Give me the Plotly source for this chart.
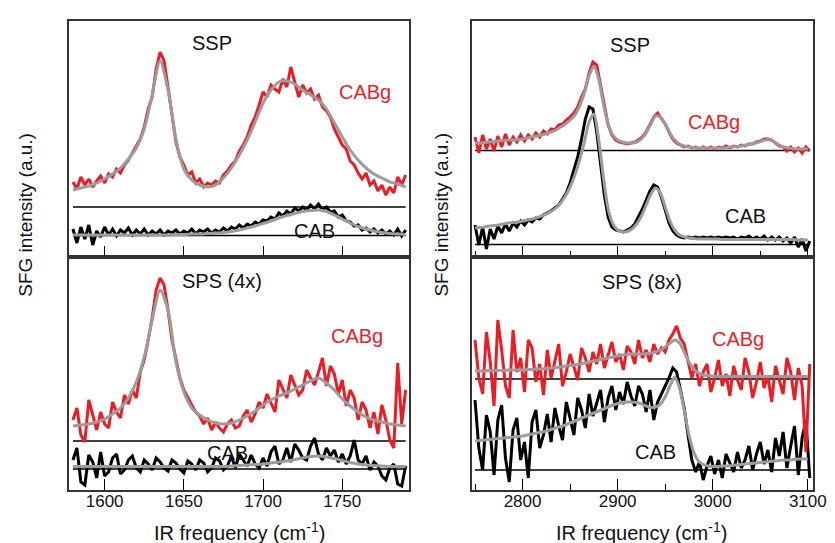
import plotly.graph_objects as go

RED = '#ed1c24'
GRAY = '#9c9c9c'
INK = '#111111'
FONT = 'Liberation Sans, Arial, sans-serif'
W, H = 835, 543

# frequency grids (cm-1)
left_fit_x = list(range(1580, 1795, 5))
left_data_x = [1580 + 2.5 * i for i in range(85)]
right_fit_x = list(range(2750, 3105, 5))
right_data_x = list(range(2750, 3103, 4))

# amide I region, SSP
ssp_amide_cabg_fit = [67, 69, 71, 74, 78, 83, 89, 98, 109, 128,
                      162, 196, 167, 118, 88, 77, 72, 70, 72, 79,
                      89, 102, 117, 135, 154, 167, 175, 176, 173, 167,
                      162, 157, 148, 134, 120, 107, 97, 89, 83, 79,
                      75, 73, 70]
ssp_amide_cabg = [75, 68, 80, 72, 78, 70, 76, 81, 74, 83,
                  80, 88, 84, 92, 97, 104, 110, 118, 130, 148,
                  160, 188, 205, 196, 170, 140, 115, 100, 92, 82,
                  85, 74, 78, 70, 74, 72, 76, 74, 82, 86,
                  92, 96, 106, 112, 120, 132, 140, 152, 165, 160,
                  172, 168, 165, 178, 170, 190, 176, 160, 172, 164,
                  168, 158, 162, 150, 146, 140, 128, 120, 112, 108,
                  96, 92, 84, 78, 84, 72, 76, 66, 72, 62,
                  70, 64, 80, 72, 82]
ssp_amide_cab_fit = [22, 22, 22, 22, 22, 22, 22, 22, 22, 22,
                     22, 22, 22, 22.5, 22.5, 23, 23, 23.5, 24, 24.5,
                     25.5, 27, 29, 31, 33.5, 36, 39, 41.5, 43.5, 45.5,
                     46.5, 47, 45.5, 42, 38, 34, 30.5, 28, 26, 24.5,
                     23.5, 23, 22.5]
ssp_amide_cab = [28, 14, 30, 18, 32, 12, 26, 20, 30, 22,
                 28, 21, 27, 24, 29, 22, 27, 23, 28, 22,
                 26, 23, 27, 22, 26, 24, 27, 23, 26, 24,
                 28, 23, 27, 25, 28, 24, 27, 25, 29, 26,
                 30, 28, 32, 29, 33, 31, 35, 33, 37, 36,
                 40, 38, 44, 41, 46, 43, 49, 46, 50, 47,
                 52, 48, 53, 47, 50, 45, 46, 40, 42, 36,
                 35, 31, 32, 27, 29, 25, 28, 24, 27, 23,
                 26, 22, 28, 21, 27]

# amide I region, SPS (4x)
sps_amide_cabg_fit = [64, 65, 66, 68, 71, 76, 82, 92, 108, 133,
                      170, 200, 180, 128, 98, 82, 75, 70, 67, 66,
                      67, 70, 74, 79, 85, 90, 94, 97, 101, 105,
                      109, 112, 107, 100, 91, 84, 78, 73, 70, 68,
                      66, 65, 64]
sps_amide_cabg = [70, 82, 55, 48, 90, 74, 60, 78, 66, 62,
                  88, 78, 72, 95, 86, 100, 92, 118, 130, 150,
                  172, 200, 212, 205, 180, 150, 130, 112, 100, 92,
                  85, 78, 74, 66, 72, 60, 68, 62, 58, 66,
                  70, 62, 64, 74, 80, 68, 76, 88, 82, 96,
                  86, 78, 110, 100, 92, 115, 104, 95, 100, 120,
                  112, 105, 118, 132, 104, 124, 116, 96, 110, 84,
                  100, 92, 70, 88, 80, 62, 78, 56, 85, 70,
                  50, 42, 127, 66, 100]
sps_amide_cab_fit = [23.5, 23.5, 23.5, 23.5, 23.5, 23.5, 23.5, 23.5, 23.5, 23.5,
                     23.5, 23.5, 23.5, 23.5, 23.5, 23.5, 23.5, 23.5, 23.5, 23.5,
                     24, 24.5, 25, 25.5, 26, 27, 28, 29, 30.5, 32,
                     33.5, 34, 33, 31.5, 29.5, 27.5, 26, 25, 24.5, 24,
                     23.5, 23.5, 23.5]
sps_amide_cab = [30, 42, 8, 5, 35, 28, 12, 38, 14, 18,
                 32, 36, 16, 20, 30, 34, 22, 18, 30, 26,
                 20, 32, 28, 22, 19, 30, 27, 21, 17, 29,
                 26, 20, 30, 27, 18, 22, 32, 29, 20, 24,
                 34, 22, 36, 30, 24, 35, 26, 22, 32, 24,
                 38, 44, 26, 30, 42, 28, 46, 40, 32, 30,
                 44, 52, 36, 30, 42, 34, 40, 28, 36, 26,
                 34, 50, 30, 26, 34, 20, 28, 24, 14, 10,
                 22, 26, 6, 4, 24]

# C-H region, SSP
ssp_ch_cabg_fit = [114, 114, 114.5, 115, 115.5, 116, 116.5, 117, 117, 117.5,
                   118, 119, 120, 121, 122, 123.5, 125, 127, 130, 133,
                   137, 142, 151, 164, 181, 191, 178, 153, 133, 122,
                   117, 115, 114, 114, 115, 118, 124, 133, 141, 140,
                   133, 124, 117, 113, 111, 110, 109.5, 109, 109, 109,
                   109, 109, 109, 109.5, 110, 110.5, 111, 112, 113, 114,
                   115.5, 117, 117, 115, 112, 110, 109, 108.5, 108, 108,
                   108]
ssp_ch_cabg = [120, 104, 122, 108, 118, 106, 121, 110, 123, 112,
               120, 115, 122, 116, 122, 118, 124, 120, 126, 123,
               128, 127, 132, 133, 137, 140, 144, 150, 160, 168,
               184, 195, 192, 172, 150, 132, 122, 117, 115, 114,
               113, 114, 115, 117, 120, 125, 132, 140, 144, 139,
               133, 125, 118, 114, 112, 110, 111, 109, 110, 108,
               110, 108, 110, 108, 110, 109, 111, 109, 111, 110,
               112, 111, 113, 113, 115, 116, 118, 118, 117, 114,
               111, 110, 106, 110, 105, 109, 104, 110, 106]
ssp_ch_cab_fit = [29, 29.5, 30, 31, 31.5, 32, 33, 34, 34.5, 35,
                  36, 37, 38, 39.5, 41, 43, 45.5, 49, 54, 61,
                  70, 82, 97, 115, 135, 143, 118, 80, 48, 33,
                  27, 25, 25.5, 28, 33, 41, 52, 63, 69, 64,
                  50, 36, 27, 22, 20, 19, 18.5, 18, 18, 18,
                  18, 18, 17.5, 17.5, 17.5, 17.5, 17.5, 17.5, 17.5, 17.5,
                  17.5, 17.5, 17.5, 17.5, 17.5, 17.5, 17.5, 17.5, 17, 17,
                  17]
ssp_ch_cab = [32, 12, 30, 8, 28, 18, 31, 24, 33, 26,
              34, 30, 36, 32, 37, 35, 39, 38, 42, 44,
              46, 49, 52, 58, 64, 74, 86, 100, 118, 138,
              150, 148, 125, 95, 62, 40, 30, 27, 26, 25,
              27, 29, 33, 40, 48, 57, 66, 72, 70, 60,
              46, 34, 26, 22, 20, 19, 20, 19, 20, 19,
              20, 19, 20, 19, 20, 19, 20, 19, 20, 18,
              20, 19, 21, 18, 20, 18, 21, 17, 20, 17,
              20, 16, 19, 14, 20, 10, 18, 6, 16]

# C-H region, SPS (8x)
sps_ch_cabg_fit = [119, 119, 119, 119.5, 119.5, 119.5, 119.5, 120, 120, 120,
                   120, 120.5, 120.5, 121, 121, 121.5, 122, 122.5, 123, 124,
                   124.5, 125, 126, 127, 128, 129, 130, 131, 132, 133,
                   134, 135, 135.5, 136, 136, 136, 136.5, 137, 138, 140,
                   143, 147, 150, 147, 138, 128, 121, 117, 115, 114.5,
                   114, 113.5, 113.5, 113.5, 113.5, 113.5, 113.5, 113.5, 113.5, 113.5,
                   113.5, 113.5, 113.5, 113.5, 113.5, 113.5, 113.5, 113.5, 113.5, 113.5,
                   113.5]
sps_ch_cabg = [150, 112, 96, 158, 128, 84, 170, 140, 104, 92,
               160, 118, 132, 98, 150, 142, 108, 126, 95, 140,
               112, 128, 146, 104, 118, 136, 124, 110, 142, 132,
               118, 138, 126, 146, 122, 134, 148, 128, 136, 120,
               144, 138, 126, 150, 132, 140, 128, 146, 136, 142,
               138, 150, 156, 164, 152, 146, 128, 112, 126, 104,
               118, 126, 98, 112, 130, 104, 116, 94, 124, 110,
               100, 132, 118, 92, 108, 128, 102, 114, 88, 124,
               110, 96, 132, 118, 90, 122, 104, 38, 126]
sps_ch_cab_fit = [49, 49.5, 50, 50.5, 51, 51.5, 52, 52.5, 53, 53.5,
                  54, 55, 56, 57, 58, 59, 60.5, 62, 63.5, 65,
                  67, 69, 71, 73, 75, 77, 79, 81, 83, 85,
                  86.5, 87.5, 88, 88, 87.5, 86, 84, 82.5, 83, 86,
                  93, 104, 113, 102, 80, 55, 38, 29, 25.5, 24,
                  23.5, 23.5, 24, 24, 24.5, 25, 25.5, 26, 26.5, 27,
                  27.5, 28, 28.5, 29, 29.5, 30, 30, 30.5, 31, 31,
                  31]
sps_ch_cab = [90, 42, 20, 75, 58, 15, 70, 85, 32, 8,
              60, 72, 30, 48, 12, 68, 80, 42, 55, 76,
              48, 82, 64, 50, 88, 70, 55, 92, 80, 62,
              96, 74, 86, 100, 68, 92, 104, 80, 98, 86,
              108, 94, 84, 104, 96, 78, 100, 70, 88, 96,
              104, 112, 122, 118, 100, 82, 55, 30, 18, 28,
              10, 24, 34, 16, 30, 12, 36, 26, 18, 38,
              22, 30, 44, 20, 36, 48, 26, 40, 18, 52,
              34, 58, 22, 44, 64, 15, 52, 70, 12]

# zero levels of the offset spectra (CABg, CAB) per panel
baselines = {1: (50, 21.5), 2: (49, 21), 3: (106.5, 12.5), 4: (111, 20)}


def px(x, y):
    return x / W, 1 - y / H


def add_panel(fig, n, data_x, fit_x, cab, cab_fit, cabg, cabg_fit):
    xa = 'x' if n == 1 else f'x{n}'
    ya = 'y' if n == 1 else f'y{n}'
    for level in baselines[n]:
        fig.add_trace(go.Scatter(x=[data_x[0], data_x[-1]], y=[level, level], mode='lines',
                                 line=dict(color='black', width=1.3), xaxis=xa, yaxis=ya))
    fig.add_trace(go.Scatter(x=data_x, y=cab, mode='lines', line=dict(color='black', width=3),
                             xaxis=xa, yaxis=ya))
    fig.add_trace(go.Scatter(x=data_x, y=cabg, mode='lines', line=dict(color=RED, width=3),
                             xaxis=xa, yaxis=ya))
    for f in (cab_fit, cabg_fit):
        fig.add_trace(go.Scatter(x=fit_x, y=f, mode='lines',
                                 line=dict(color=GRAY, width=3, shape='spline', smoothing=0.8),
                                 xaxis=xa, yaxis=ya))


fig = go.Figure()
add_panel(fig, 1, left_data_x, left_fit_x, ssp_amide_cab, ssp_amide_cab_fit, ssp_amide_cabg, ssp_amide_cabg_fit)
add_panel(fig, 2, left_data_x, left_fit_x, sps_amide_cab, sps_amide_cab_fit, sps_amide_cabg, sps_amide_cabg_fit)
add_panel(fig, 3, right_data_x, right_fit_x, ssp_ch_cab, ssp_ch_cab_fit, ssp_ch_cabg, ssp_ch_cabg_fit)
add_panel(fig, 4, right_data_x, right_fit_x, sps_ch_cab, sps_ch_cab_fit, sps_ch_cabg, sps_ch_cabg_fit)
# empty traces so the label-only axes get drawn
fig.add_trace(go.Scatter(x=[], y=[], xaxis='x5', yaxis='y2', hoverinfo='skip'))
fig.add_trace(go.Scatter(x=[], y=[], xaxis='x6', yaxis='y4', hoverinfo='skip'))

left_dom = [61.7 / W, 408.3 / W]
right_dom = [471.7 / W, 818.3 / W]
top_dom = [1 - 249 / H, 1 - 13 / H]
bot_dom = [1 - 482 / H, 1 - 249 / H]
label_pos = 1 - 481 / H

frame = dict(showline=True, mirror=True, linecolor='#333333', linewidth=1.5,
             showgrid=False, zeroline=False)
xtick = dict(ticks='inside', ticklen=11, tickwidth=1.3, tickcolor='black', showticklabels=False)
left_rng = dict(range=[1577.3, 1792.4], tick0=1600, dtick=50)
right_rng = dict(range=[2746.6, 3105], tick0=2800, dtick=100)
left_x = dict(**left_rng, **frame, **xtick)
right_x = dict(**right_rng,
               minor=dict(ticks='inside', ticklen=6, tickwidth=1.3, tickcolor='black', dtick=50, tick0=2750),
               **frame, **xtick)
label_x = dict(anchor='free', position=label_pos, ticks='', showline=False, showgrid=False,
               zeroline=False, tickfont=dict(size=17, color=INK, family=FONT))
hidden_y = dict(ticks='', showticklabels=False, **frame)

fig.update_layout(
    width=W, height=H,
    margin=dict(l=0, r=0, t=0, b=0),
    paper_bgcolor='white', plot_bgcolor='white',
    showlegend=False,
    font=dict(family=FONT, color=INK),
    xaxis=dict(domain=left_dom, anchor='y', **left_x),
    yaxis=dict(domain=top_dom, anchor='x', range=[0, 236], **hidden_y),
    xaxis2=dict(domain=left_dom, anchor='y2', **left_x),
    yaxis2=dict(domain=bot_dom, anchor='x2', range=[0, 233], **hidden_y),
    xaxis3=dict(domain=right_dom, anchor='y3', **right_x),
    yaxis3=dict(domain=top_dom, anchor='x3', range=[0, 236], **hidden_y),
    xaxis4=dict(domain=right_dom, anchor='y4', **right_x),
    yaxis4=dict(domain=bot_dom, anchor='x4', range=[0, 233], **hidden_y),
    xaxis5=dict(overlaying='x2', domain=left_dom, **left_rng, **label_x),
    xaxis6=dict(overlaying='x4', domain=right_dom, **right_rng, **label_x),
)

labels = [
    ('SSP', 207, 35, INK), ('CABg', 363, 84, RED), ('CAB', 312, 223, INK),
    ('SPS (4x)', 218, 273, INK), ('CABg', 355, 328, RED), ('CAB', 223, 445, INK),
    ('SSP', 633, 37, INK), ('CABg', 718, 114, RED), ('CAB', 750, 208, INK),
    ('SPS (8x)', 645, 274, INK), ('CABg', 742, 331, RED), ('CAB', 659, 444, INK),
]
for text, x, y, color in labels:
    ax, ay = px(x, y)
    fig.add_annotation(text=text, x=ax, y=ay, xref='paper', yref='paper', showarrow=False,
                       xanchor='center', yanchor='middle', font=dict(size=20, color=color))

for x in (235, 644):
    ax, ay = px(x, 523)
    fig.add_annotation(text='IR frequency (cm<sup>-1</sup>)', x=ax, y=ay, xref='paper', yref='paper',
                       showarrow=False, xanchor='center', yanchor='middle', font=dict(size=20))
for x in (17, 440):
    ax, ay = px(x, 207)
    fig.add_annotation(text='SFG intensity (a.u.)', x=ax, y=ay, xref='paper', yref='paper',
                       showarrow=False, textangle=-90, xanchor='center', yanchor='middle',
                       font=dict(size=19))

fig.write_html("out.html")
